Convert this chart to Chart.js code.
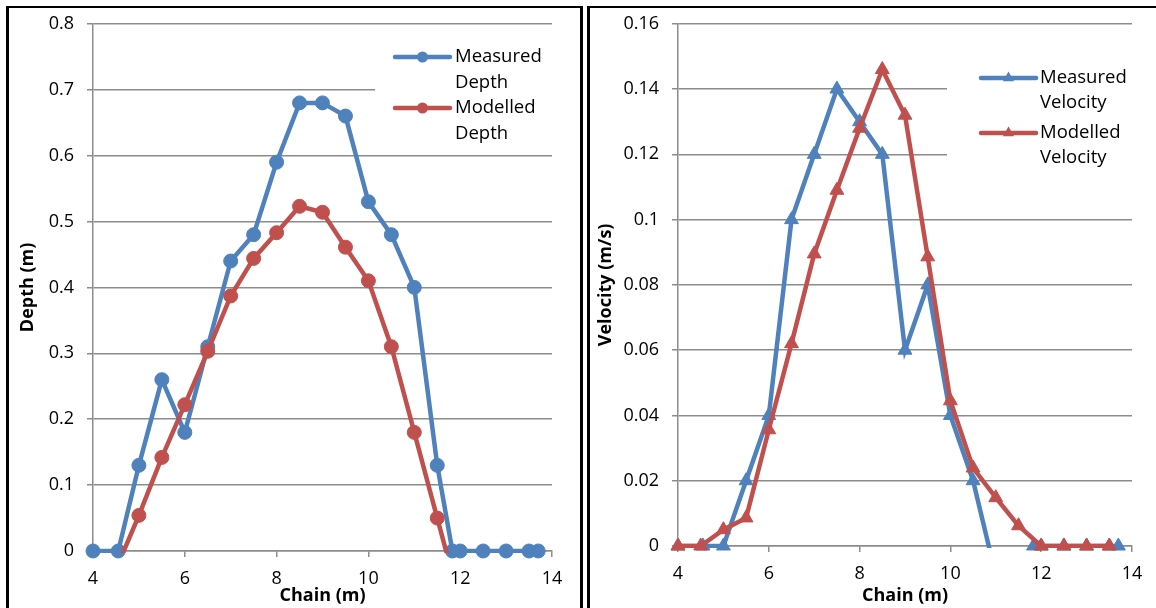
<!DOCTYPE html>
<html>
<head>
<meta charset="UTF-8">
<title>Depth and Velocity</title>
<script src="https://cdn.jsdelivr.net/npm/chart.js@4.4.0/dist/chart.umd.min.js"></script>
<style>
  body { margin: 0; background: #fff; }
  #wrap { position: relative; width: 1156px; height: 608px; overflow: hidden; }
  #wrap canvas { position: absolute; top: 0; }
  .frame { position: absolute; background: #000; }
</style>
</head>
<body>
<div id="wrap">
  <div class="frame" style="left:6px;top:6px;width:3px;height:602px"></div>
  <div class="frame" style="left:6px;top:6px;width:577px;height:2px"></div>
  <div class="frame" style="left:580px;top:6px;width:3px;height:602px"></div>
  <div class="frame" style="left:587px;top:6px;width:3px;height:602px"></div>
  <div class="frame" style="left:587px;top:6px;width:569px;height:2px"></div>
  <canvas id="depth" width="580" height="608" style="left:0"></canvas>
  <canvas id="velocity" width="566" height="608" style="left:590px"></canvas>
</div>

<script>
// tick labels
var chainTicks = ['4', '6', '8', '10', '12', '14'];
var depthTicks = ['0', '0.1', '0.2', '0.3', '0.4', '0.5', '0.6', '0.7', '0.8'];
var velocityTicks = ['0', '0.02', '0.04', '0.06', '0.08', '0.1', '0.12', '0.14', '0.16'];

// measured readings (same chain stations for depth and velocity)
var measuredChain = [4, 4.55, 5, 5.5, 6, 6.5, 7, 7.5, 8, 8.5, 9, 9.5, 10, 10.5, 11, 11.5, 11.83, 12, 12.5, 13, 13.5, 13.7];
var measuredDepth = [0, 0, 0.13, 0.26, 0.18, 0.31, 0.44, 0.48, 0.59, 0.68, 0.68, 0.66, 0.53, 0.48, 0.40, 0.13, 0, 0, 0, 0, 0, 0];
var measuredVelocity = [0, 0, 0, 0.02, 0.04, 0.10, 0.12, 0.14, 0.13, 0.12, 0.06, 0.08, 0.04, 0.02, -0.009, -0.004, 0, 0, 0, 0, 0, 0];

// modelled results (values below zero are cut off by the axis)
var modelledDepthChain = [4.5, 5, 5.5, 6, 6.5, 7, 7.5, 8, 8.5, 9, 9.5, 10, 10.5, 11, 11.5, 12];
var modelledDepth = [-0.028, 0.054, 0.142, 0.222, 0.303, 0.387, 0.444, 0.483, 0.523, 0.514, 0.461, 0.41, 0.31, 0.18, 0.05, -0.08];
var modelledVelocityChain = [4, 4.5, 5, 5.5, 6, 6.5, 7, 7.5, 8, 8.5, 9, 9.5, 10, 10.5, 11, 11.5, 12, 12.5, 13, 13.5];
var modelledVelocity = [0, 0, 0.005, 0.0086, 0.0356, 0.062, 0.0895, 0.109, 0.128, 0.146, 0.132, 0.0886, 0.0445, 0.0239, 0.0148, 0.0062, 0, 0, 0, 0];

var BLUE = '#4F81BD';
var RED = '#C0504D';
var GRID = '#8c8c8c';
var FONT = '"Open Sans", "Noto Sans", sans-serif';

function pts(xs, ys) {
  return xs.map(function (x, i) { return { x: x, y: ys[i] }; });
}

// excel draws the line clipped to the plot, markers on top of it
function series(xs, ys, color, style, r, order) {
  var data = pts(xs, ys);
  return [{
    data: data,
    borderColor: color,
    borderWidth: 4.5,
    pointRadius: 0,
    clip: 2,
    order: order + 1
  }, {
    data: data,
    showLine: false,
    clip: false,
    pointStyle: style,
    backgroundColor: color,
    borderColor: color,
    borderWidth: 1,
    pointRadius: function (c) { return c.raw && c.raw.y < 0 ? 0 : r; },
    order: order
  }];
}

function drawMarker(ctx, style, x, y, r, color) {
  ctx.fillStyle = color;
  ctx.beginPath();
  if (style === 'triangle') {
    ctx.moveTo(x, y - r);
    ctx.lineTo(x + r * 0.866, y + r / 2);
    ctx.lineTo(x - r * 0.866, y + r / 2);
    ctx.closePath();
  } else {
    ctx.arc(x, y, r, 0, Math.PI * 2);
  }
  ctx.fill();
}

var decor = {
  id: 'decor',
  afterDraw: function (chart, args, o) {
    var ctx = chart.ctx;
    var a = chart.chartArea;
    ctx.save();
    ctx.fillStyle = '#000';
    ctx.font = 'bold 18px ' + FONT;
    ctx.textAlign = 'center';
    ctx.textBaseline = 'middle';
    ctx.fillText(o.xTitle, (a.left + a.right) / 2, o.xTitleY);
    ctx.save();
    ctx.translate(o.yTitleX, (a.top + a.bottom) / 2);
    ctx.rotate(-Math.PI / 2);
    ctx.fillText(o.yTitle, 0, 0);
    ctx.restore();

    var L = o.legend;
    ctx.fillStyle = '#fff';
    ctx.fillRect(L.box[0], L.box[1], L.box[2], L.box[3]);
    L.rows.forEach(function (row) {
      ctx.strokeStyle = row.color;
      ctx.lineWidth = 4.5;
      ctx.lineCap = 'round';
      ctx.beginPath();
      ctx.moveTo(L.lineX[0], row.y);
      ctx.lineTo(L.lineX[1], row.y);
      ctx.stroke();
      drawMarker(ctx, L.style, (L.lineX[0] + L.lineX[1]) / 2, row.y, L.r, row.color);
      ctx.fillStyle = '#000';
      ctx.font = '18.5px ' + FONT;
      ctx.textAlign = 'left';
      row.text.forEach(function (t, i) {
        ctx.fillText(t, L.textX, row.y + i * L.lineHeight);
      });
    });
    ctx.restore();
  }
};

function axes(yMax, yStep, yTicks, yWidth, xHeight) {
  var tickFont = { family: FONT, size: 18 };
  return {
    x: {
      type: 'linear', min: 4, max: 14,
      ticks: { stepSize: 2, autoSkip: false, maxRotation: 0, color: '#000', font: tickFont, padding: 11,
        callback: function (v, i) { return chainTicks[i]; } },
      grid: { drawOnChartArea: false, tickLength: 6, color: GRID, lineWidth: 1.5 },
      border: { color: GRID, width: 1.5 },
      afterFit: function (s) { s.height = xHeight; }
    },
    y: {
      min: 0, max: yMax,
      ticks: { stepSize: yStep, color: '#000', font: tickFont, padding: 13,
        callback: function (v, i) { return yTicks[i]; } },
      grid: { tickLength: 6, color: GRID, lineWidth: 1.5 },
      border: { color: GRID, width: 1.5 },
      afterFit: function (s) { s.width = yWidth; }
    }
  };
}

new Chart('depth', {
  type: 'line',
  data: {
    datasets: series(measuredChain, measuredDepth, BLUE, 'circle', 7, 2)
      .concat(series(modelledDepthChain, modelledDepth, RED, 'circle', 7, 0))
  },
  options: {
    responsive: false,
    animation: false,
    events: [],
    layout: { padding: { top: 18, right: 28, left: 0, bottom: 0 } },
    scales: axes(0.8, 0.1, depthTicks, 93, 57),
    plugins: {
      legend: { display: false },
      tooltip: { enabled: false },
      decor: {
        xTitle: 'Chain (m)', xTitleY: 596,
        yTitle: 'Depth (m)', yTitleX: 28,
        legend: {
          box: [375, 28, 190, 120], lineX: [395, 450], textX: 455, lineHeight: 25.5,
          style: 'circle', r: 5.5,
          rows: [
            { y: 57, color: BLUE, text: ['Measured', 'Depth'] },
            { y: 108, color: RED, text: ['Modelled', 'Depth'] }
          ]
        }
      }
    }
  },
  plugins: [decor]
});

new Chart('velocity', {
  type: 'line',
  data: {
    datasets: series(measuredChain, measuredVelocity, BLUE, 'triangle', 8, 2)
      .concat(series(modelledVelocityChain, modelledVelocity, RED, 'triangle', 8, 0))
  },
  options: {
    responsive: false,
    animation: false,
    events: [],
    layout: { padding: { top: 18, right: 24, left: 0, bottom: 0 } },
    scales: axes(0.16, 0.02, velocityTicks, 88, 62),
    plugins: {
      legend: { display: false },
      tooltip: { enabled: false },
      decor: {
        xTitle: 'Chain (m)', xTitleY: 596,
        yTitle: 'Velocity (m/s)', yTitleX: 16,
        legend: {
          box: [357, 45, 200, 150], lineX: [391, 446], textX: 450, lineHeight: 24.5,
          style: 'triangle', r: 6.5,
          rows: [
            { y: 78, color: BLUE, text: ['Measured', 'Velocity'] },
            { y: 133, color: RED, text: ['Modelled', 'Velocity'] }
          ]
        }
      }
    }
  },
  plugins: [decor]
});
</script>
</body>
</html>
